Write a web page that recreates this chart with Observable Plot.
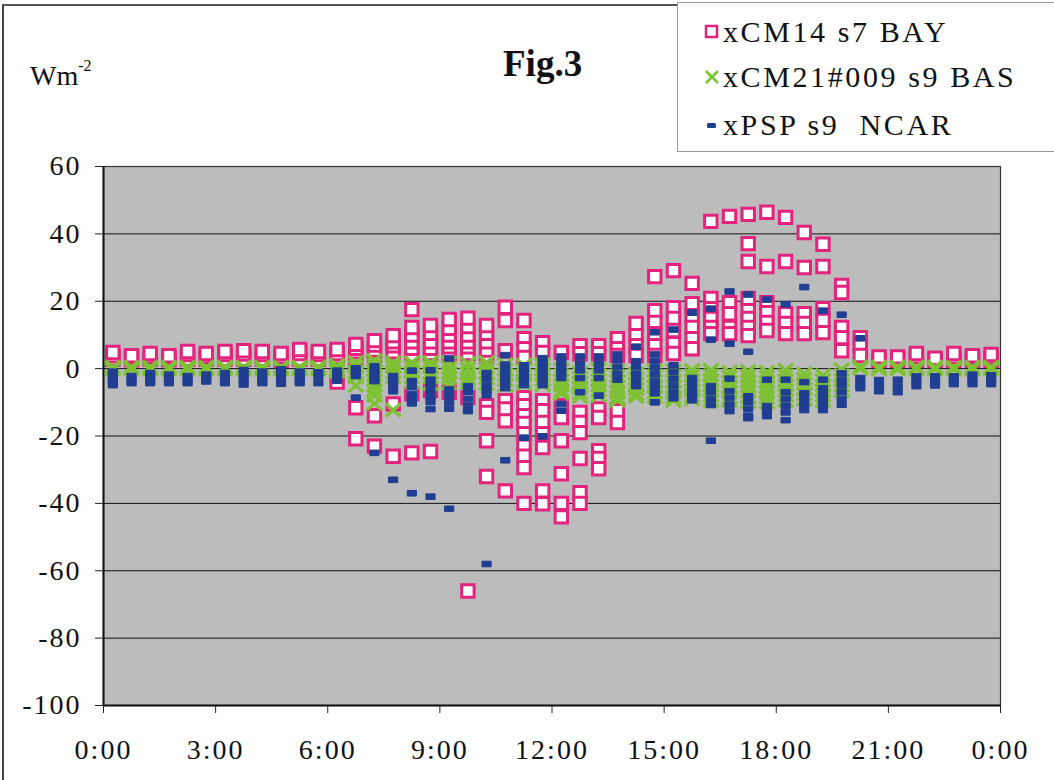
<!DOCTYPE html>
<html>
<head>
<meta charset="utf-8">
<script src="https://cdn.jsdelivr.net/npm/d3@7"></script>
<script src="https://cdn.jsdelivr.net/npm/@observablehq/plot@0.6"></script>
<style>
html, body { margin: 0; padding: 0; background: #fff; }
#wrap { position: relative; width: 1054px; height: 780px; overflow: hidden; font-family: "Liberation Serif", serif; color: #111; }
#wrap svg text { letter-spacing: 2px; }
#frameLines { position: absolute; left: 2px; top: 4px; width: 1060px; height: 790px; border-left: 2px solid #444; border-top: 2px solid #555; pointer-events: none; }
#title { position: absolute; left: 503px; top: 42px; font-size: 37px; font-weight: bold; }
#unit { position: absolute; left: 30px; top: 60px; font-size: 28px; }
#unit sup { font-size: 16px; position: relative; top: -4px; }
#legend { position: absolute; left: 677px; top: 2px; width: 400px; height: 148px; border: 1px solid #999; background: #fff; }
.lrow { position: absolute; left: 26px; font-size: 30px; letter-spacing: 2.6px; white-space: pre; display: flex; align-items: center; }
.lrow svg { margin-right: 3px; }
</style>
</head>
<body>
<div id="wrap"></div>
<script>
// ---- data (half-hour bins, several days per bin) ----
const binTimes = ["0:15","0:45","1:15","1:45","2:15","2:45","3:15","3:45","4:15","4:45","5:15","5:45",
  "6:15","6:45","7:15","7:45","8:15","8:45","9:15","9:45","10:15","10:45","11:15","11:45",
  "12:15","12:45","13:15","13:45","14:15","14:45","15:15","15:45","16:15","16:45","17:15","17:45",
  "18:15","18:45","19:15","19:45","20:15","20:45","21:15","21:45","22:15","22:45","23:15","23:45"];

const pinkValues = [
  [2.8, 3.8, 4.8], [2.6, 3.2, 3.8], [2.8, 3.6, 4.5], [2.6, 3.2, 3.8], [2.8, 4.2, 5.1], [2.8, 3.6, 4.5],
  [2.8, 4.2, 5.1], [2.8, 4.3, 5.3], [2.8, 4.2, 5.1], [2.5, 3.5, 4.5], [2.8, 4.5, 5.7], [2.8, 4.2, 5.1],
  [3.5, 4.5, 5.7, -4], [3, 5, 6, 7.2, -11.6, -20.8], [4, 5.5, 7, 8.3, -14, -23], [5, 6.8, 8, 9.8, -10.5, -26],
  [4, 6, 8, 10, 12.2, 17.5, -7.5, -25], [4.5, 6, 8, 10.5, 12.8, -6.5, -24.6], [4, 6.5, 8, 10, 12, 14.6, -7],
  [4.5, 6.5, 8, 10, 12.5, 15, -8.6, -66], [3.5, 5.5, 8, 10.5, 12.8, -11, -13, -21.4, -32],
  [18.2, 14.3, 5.3, -9.5, -12, -15.5, -36.3],
  [14.3, 8.9, 5.9, 3.3, -8.6, -11, -14, -16.3, -19.3, -23, -26, -29.4, -40],
  [7.7, 4.8, -9.5, -12.5, -16, -19.3, -23.4, -36.3, -40.1],
  [4.8, -11, -14.5, -21.4, -31.2, -40, -44],
  [6.8, 4.4, -13, -16, -19, -26.7, -36.8, -40],
  [6.8, 4.4, -12, -14.5, -24.4, -26.7, -29.7],
  [8.9, 5.9, 3.9, -12.5, -16],
  [13.4, 9.8, 6.8, 3.9],
  [27.3, 17.2, 13.7, 10.4, 6.8, 3.9],
  [29.1, 18.1, 14.9, 11.3, 7.4, 4.5],
  [25.3, 19.3, 15.7, 12.2, 8.9, 5.9],
  [43.7, 20.8, 17.8, 14.9, 12.2, 10.4],
  [45.2, 19.6, 16.3, 12.2, 10.4],
  [45.8, 37.1, 31.8, 20.8, 17.2, 14.9, 12.2, 9.8],
  [46.4, 30.3, 19.6, 16.6, 13.7, 11.3],
  [44.9, 31.8, 16.3, 13.4, 10.4],
  [40.4, 30, 16.3, 13.4, 10.4],
  [36.9, 30.3, 17.8, 14.3, 10.7],
  [24.7, 22.6, 12.2, 9.2, 5.3],
  [9.2, 6.8, 3.9],
  [2.5, 3.5], [2.5, 3.5], [2.5, 3.5, 4.5], [2.5, 3.1], [2.5, 3.5, 4.5], [2.5, 3.2, 3.8], [2.5, 3.3, 4.2]
];

const greenValues = [
  [0.5, -0.2], [0.5, -0.2], [0.5, -0.2], [0.5, -0.2], [0.5, -0.2], [0.5, -0.2],
  [0.5, -0.2], [0.5, -0.2], [0.5, -0.2], [0.5, -0.2], [0.5, -0.2], [0.5, -0.2],
  [1, 0, -0.8],
  [1.8, 0.5, -1, -2.5, -5],
  [2.4, 1, -0.5, -2, -3.5, -5, -6.5, -8, -10.4],
  [1.8, 0.5, -1, -2.5, -12.3],
  [1.8, 0.5, -1, -2.5, -4],
  [1.8, 0.5, -1, -2.5, -4.5],
  [1.8, 0.3, -1.2, -2.7, -4.3],
  [1.5, 0, -1.5, -3, -4.2],
  [1.8, 0.3, -1.2, -2.7, -4.5],
  [1.2, -0.3, -1.8, -3.3, -5],
  [1, -0.5, -2, -3.5, -4.5],
  [1.2, -0.3, -1.8, -3.3, -4.8],
  [-0.3, -2, -3.5, -5, -6.5, -7.4],
  [-1.2, -2.7, -4.2, -5.7, -7.2, -8.3],
  [-0.3, -2, -3.5, -5, -6.5, -8],
  [-0.6, -2.2, -3.8, -5.4, -7, -8.5, -9.5],
  [-1.5, -3, -4.5, -6, -7.5, -8.3],
  [-0.6, -2.2, -3.8, -5.4, -7, -8.3],
  [-0.6, -2.2, -3.8, -5.4, -7, -8.5, -9.5],
  [-0.5, -2, -3.5, -5, -6.5, -8, -9],
  [-0.5, -2, -3.5, -5, -6.5, -8, -9.5],
  [-1, -2.5, -4, -5.5, -7, -8.5, -9.5],
  [-0.8, -2.3, -3.8, -5.3, -6.8, -8.3, -9.8],
  [-1, -2.5, -4, -5.5, -7, -8.5, -10],
  [-0.5, -2, -3.5, -5, -6.5, -8, -9.5],
  [-1.5, -3, -4.5, -6, -7.5, -9],
  [-2, -3.5, -5, -6.5, -8, -9.5],
  [-0.3, -2, -3.5, -5, -6.5],
  [0.6, 0],
  [0.5, -0.2], [0.5, -0.2], [0.5, -0.2], [0.5, -0.2], [0.5, -0.2], [0.5, -0.2], [0.5, -0.2]
];

const blueValues = [
  [-0.9, -2, -3, -4, -4.9], [-2.2, -3.3, -4.3], [-1.3, -2.3, -3.3, -4.3], [-1.8, -3, -4.3],
  [-2.2, -3.3, -4.3], [-1.8, -3, -3.8], [-1.3, -2.8, -4.3], [-0.4, -1.8, -3.2, -4.7],
  [-0.9, -2.3, -3.3, -4.3], [-0.2, -1.5, -3, -4.5], [-0.9, -2.3, -3.3, -4.3], [-1.1, -2.5, -4.3],
  [-0.6, -1.6, -2.6, -3.6],
  [0.1, -1, -2.2, -8.6],
  [0.7, -0.5, -1.8, -3, -3.7, -25],
  [-2.2, -3.5, -5, -6.7, -33],
  [-0.6, -3.7, -5.5, -7.5, -9, -10.3, -37],
  [-0.5, -3.3, -5, -6.8, -8.5, -9.9, -12, -38],
  [3, -6.2, -8, -10, -11.9, -41.6],
  [-5.2, -7, -9, -11, -12.6],
  [-1.3, -3, -5, -6.5, -7.9, -58],
  [4, 1.2, -0.5, -2.2, -4, -5.8, -27.2],
  [1, -0.5, -2, -3.5, -4.9, -20.5],
  [3.1, 1.5, 0, -1.7, -3.3, -4.9, -20.1],
  [3.6, 2, 0.3, -1.3, -2.8, -10.5, -12.5],
  [3.6, 1.5, -0.5, -2.8, -7],
  [3.6, 1.5, -0.5, -2.8, -8],
  [4.2, 2.5, 0.5, -1.5, -3.3],
  [6.5, 2.2, 0.5, -1.5, -3.5, -5.2],
  [10.8, 4.2, 2.2, 0.3, -1.7, -3.7, -5.5, -7.3, -10],
  [11.6, 1, -1, -3, -5, -7, -8.8],
  [16.6, -2.8, -4.5, -6.3, -8, -9.4],
  [17.8, 8.6, -5.2, -7, -9, -10.8, -21.4],
  [22.9, 7.4, -3, -6.7, -8.7, -10.7, -12.6],
  [22, 5, -8.2, -10, -12, -14, -14.7],
  [20.5, -3.3, -11.1, -12.6, -14.1],
  [19.1, -3.3, -7, -9, -11, -13, -15.3],
  [24.2, -4, -7.3, -9, -10.7, -12.3],
  [17.2, -3.3, -5.8, -7.6, -9.4, -11, -12.3],
  [16, -1.4, -3.3, -5, -7, -9, -10.7],
  [9, -2.8, -4.3, -5.8],
  [-3.4, -5, -6.7], [-3.3, -5.2, -7], [-2.3, -3.8, -5.2], [-2.3, -3.6, -5],
  [-2.3, -3.5, -4.6], [-1.8, -3.2, -4.6], [-2, -3.3, -4.6]
];

const yTicks = [-100, -80, -60, -40, -20, 0, 20, 40, 60];
const gridValues = [-80, -60, -40, -20, 0, 20, 40];
const xTickHours = [0, 3, 6, 9, 12, 15, 18, 21, 24];
const xTickLabels = ["0:00", "3:00", "6:00", "9:00", "12:00", "15:00", "18:00", "21:00", "0:00"];
const seriesNames = ["xCM14 s7 BAY", "xCM21#009 s9 BAS", "xPSP s9  NCAR"];
const seriesColors = ["#e3237d", "#7dc232", "#203e92"];
const titleText = "Fig.3";

// ---- build tables ----
function toHours(t) { const [h, m] = t.split(":").map(Number); return h + m / 60; }
function flatten(values) {
  return values.flatMap((vals, i) => vals.map(v => ({hour: toHours(binTimes[i]), value: v})));
}
const pinkData = flatten(pinkValues);
const greenData = flatten(greenValues);
const blueData = flatten(blueValues);

const dashSymbol = {
  draw(context) {
    const w = 4.6, h = 2.8;
    context.moveTo(-w, -h); context.lineTo(w, -h); context.lineTo(w, h); context.lineTo(-w, h); context.closePath();
  }
};
const wideCross = {
  draw(context) {
    const w = 7.5, h = 6.5;
    context.moveTo(-w, -h); context.lineTo(w, h);
    context.moveTo(w, -h); context.lineTo(-w, h);
  }
};

const chart = Plot.plot({
  width: 1054,
  height: 780,
  marginLeft: 103,
  marginRight: 54,
  marginTop: 166,
  marginBottom: 75,
  style: {fontFamily: "Liberation Serif, serif", fontSize: "28px", color: "#111", background: "transparent"},
  x: {domain: [0, 24]},
  y: {domain: [-100, 60]},
  marks: [
    Plot.frame({fill: "#bcbcbc", stroke: null}),
    Plot.gridY(gridValues, {stroke: "#111", strokeOpacity: 1, strokeWidth: 1}),
    Plot.frame({stroke: "#333", strokeWidth: 1.2}),
    Plot.ruleY([-100], {stroke: "#111", strokeWidth: 2}),
    Plot.ruleX([0], {stroke: "#111", strokeWidth: 2}),
    Plot.axisY({ticks: yTicks, tickSize: 8, tickPadding: 14, tickFormat: d => String(d), fontSize: 28, label: null, stroke: "#222"}),
    Plot.axisX({ticks: xTickHours, tickSize: 8, tickPadding: 26, tickFormat: d => xTickLabels[xTickHours.indexOf(d)], fontSize: 28, label: null, stroke: "#222"}),
    Plot.dot(pinkData, {x: "hour", y: "value", symbol: "square", r: 7, fill: "#fff", stroke: seriesColors[0], strokeWidth: 3}),
    Plot.dot(greenData, {x: "hour", y: "value", symbol: wideCross, fill: "none", stroke: seriesColors[1], strokeWidth: 3.2}),
    Plot.dot(blueData, {x: "hour", y: "value", symbol: dashSymbol, fill: seriesColors[2], stroke: seriesColors[2], strokeWidth: 1, strokeLinejoin: "round"})
  ]
});

const wrap = document.getElementById("wrap");
wrap.appendChild(chart);

const frameLines = document.createElement("div");
frameLines.id = "frameLines";
wrap.appendChild(frameLines);

const title = document.createElement("div");
title.id = "title";
title.textContent = titleText;
wrap.appendChild(title);

const unit = document.createElement("div");
unit.id = "unit";
unit.innerHTML = "Wm<sup>-2</sup>";
wrap.appendChild(unit);

const legend = document.createElement("div");
legend.id = "legend";
const markers = [
  `<svg width="16" height="16"><rect x="2" y="2" width="11" height="11" fill="#fff" stroke="${seriesColors[0]}" stroke-width="2.5"/></svg>`,
  `<svg width="16" height="16"><path d="M2,2L14,14M14,2L2,14" stroke="${seriesColors[1]}" stroke-width="2.6"/></svg>`,
  `<svg width="16" height="16"><rect x="3" y="6" width="9" height="5" rx="1.5" fill="${seriesColors[2]}"/></svg>`
];
const rowTops = [12, 57, 105];
seriesNames.forEach((name, i) => {
  const row = document.createElement("div");
  row.className = "lrow";
  row.style.top = rowTops[i] + "px";
  row.innerHTML = markers[i] + "<span></span>";
  row.querySelector("span").textContent = name;
  legend.appendChild(row);
});
wrap.appendChild(legend);
</script>
</body>
</html>
